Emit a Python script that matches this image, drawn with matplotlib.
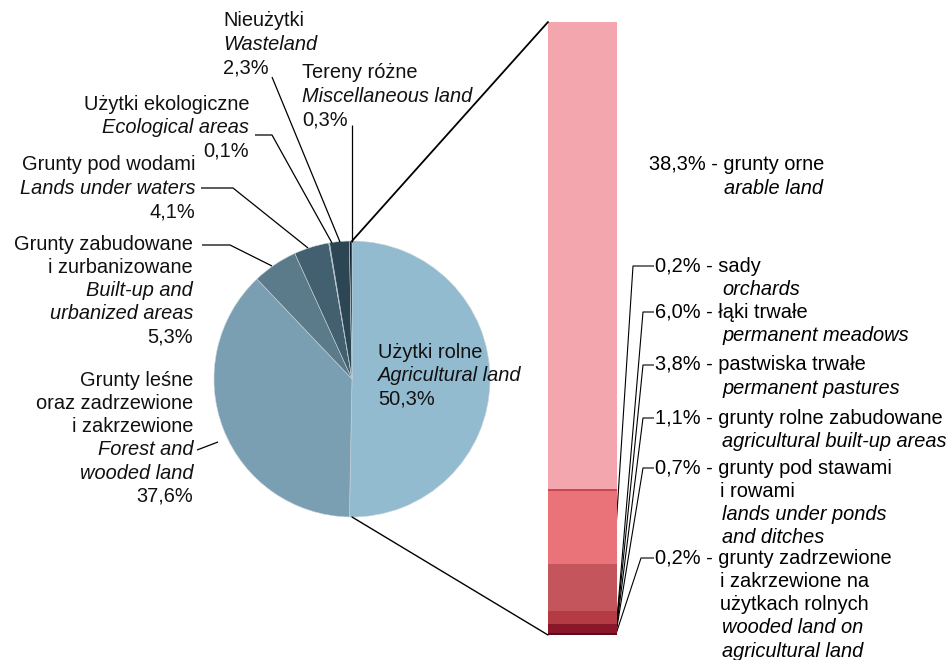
import matplotlib
matplotlib.use("Agg")
import matplotlib.pyplot as plt
from matplotlib.patches import ConnectionPatch

plt.rcParams['font.family'] = ['Liberation Sans', 'DejaVu Sans']

# ---- data ----
pie_labels_pl = ["Użytki rolne", "Grunty leśne\noraz zadrzewione\ni zakrzewione",
                 "Grunty zabudowane\ni zurbanizowane", "Grunty pod wodami",
                 "Użytki ekologiczne", "Nieużytki", "Tereny różne"]
pie_labels_en = ["Agricultural land", "Forest and\nwooded land", "Built-up and\nurbanized areas",
                 "Lands under waters", "Ecological areas", "Wasteland", "Miscellaneous land"]
pie_values = [50.3, 37.6, 5.3, 4.1, 0.1, 2.3, 0.3]
pie_colors = ["#93bbd0", "#7a9fb2", "#5b7b8b", "#42606f", "#55707f", "#2c4654", "#13222c"]

# bar segments, top to bottom
bar_labels_pl = ["grunty orne", "sady", "łąki trwałe", "pastwiska trwałe",
                 "grunty rolne zabudowane", "grunty pod stawami\ni rowami",
                 "grunty zadrzewione\ni zakrzewione na\nużytkach rolnych"]
bar_labels_en = ["arable land", "orchards", "permanent meadows", "permanent pastures",
                 "agricultural built-up areas", "lands under ponds\nand ditches",
                 "wooded land on\nagricultural land"]
bar_values = [38.3, 0.2, 6.0, 3.8, 1.1, 0.7, 0.2]
bar_colors = ["#f4a6ae", "#c9464f", "#e97378", "#c4555c", "#b43a43", "#8a1729", "#5e0a1c"]

W, H = 952, 660
fig = plt.figure(figsize=(W / 100, H / 100), dpi=100)
ax = fig.add_axes([0, 0, 1, 1])

def Y(py):
    return H - py

FS = 14.4
LS = 23.3

# ---- pie ----
cx, cy, r = 352, Y(379), 138
ax.pie(pie_values, colors=pie_colors, startangle=90, counterclock=False,
       center=(cx, cy), radius=r, frame=True,
       wedgeprops=dict(linewidth=0.4, edgecolor="#c8d4da"))
ax.set_xlim(0, W)
ax.set_ylim(0, H)
ax.set_aspect('equal')
ax.axis('off')

def pct(v):
    return f"{v:.1f}%".replace(".", ",")

def block(x, y0, lines, ha):
    """lines: list of (text, italic)"""
    for i, (t, it) in enumerate(lines):
        ax.text(x, Y(y0 + i * LS), t, ha=ha, va='center', fontsize=FS,
                style='italic' if it else 'normal', color='#111111')

def lines_of(i):
    out = [(s, False) for s in pie_labels_pl[i].split("\n")]
    out += [(s, True) for s in pie_labels_en[i].split("\n")]
    out.append((pct(pie_values[i]), False))
    return out

block(378, 352, lines_of(0), 'left')      # agricultural
block(193, 380, lines_of(1), 'right')     # forest
block(193, 244, lines_of(2), 'right')     # built-up
block(195, 165, lines_of(3), 'right')     # waters
block(249, 104, lines_of(4), 'right')     # ecological
block(223, 21, lines_of(5), 'left')       # wasteland
block(302, 73, lines_of(6), 'left')       # misc

def leader(pts, lw=0.9):
    xs = [p[0] for p in pts]
    ys = [Y(p[1]) for p in pts]
    ax.plot(xs, ys, color='black', lw=lw, solid_capstyle='butt')

leader([(272, 77), (340, 242)])
leader([(352, 125), (352, 242)])
leader([(255, 135), (272, 135), (332, 243)])
leader([(201, 188), (233, 188), (308, 248)])
leader([(202, 245), (230, 245), (272, 266)])
leader([(197, 450), (218, 442)])

# ---- bar ----
bx0, bx1, by0, by1 = 548, 617, 22, 635
bax = fig.add_axes([bx0 / W, (H - by1) / H, (bx1 - bx0) / W, (by1 - by0) / H])
total = sum(bar_values)
top = total
for v, c in zip(bar_values, bar_colors):
    bax.bar(0.5, v, bottom=top - v, width=1.0, color=c, linewidth=0)
    top -= v
bax.set_xlim(0, 1)
bax.set_ylim(0, total)
bax.axis('off')

# connection lines pie -> bar
con1 = ConnectionPatch(xyA=(cx, cy + r), coordsA=ax.transData,
                       xyB=(0, total), coordsB=bax.transData, color='black', lw=1.3)
con2 = ConnectionPatch(xyA=(cx, cy - r), coordsA=ax.transData,
                       xyB=(0, 0), coordsB=bax.transData, color='black', lw=1.0)
fig.add_artist(con1)
fig.add_artist(con2)

# bar labels
ax.text(649, Y(165), f"{pct(bar_values[0])} - {bar_labels_pl[0]}", ha='left', va='center', fontsize=FS)
ax.text(724, Y(189), bar_labels_en[0], ha='left', va='center', fontsize=FS, style='italic')

label_y = [None, 266, 312, 365, 418, 468, 558]
ends = [None, (616, 528), (616, 630), (616, 631), (616, 632), (616, 633), (616, 634)]
tick_x = [None, 633, 643, 643, 643, 643, 641]
for i in range(1, len(bar_values)):
    y0 = label_y[i]
    pl = bar_labels_pl[i].split("\n")
    en = bar_labels_en[i].split("\n")
    ax.text(655, Y(y0), f"{pct(bar_values[i])} - {pl[0]}", ha='left', va='center', fontsize=FS)
    k = 1
    for s in pl[1:]:
        ax.text(720, Y(y0 + k * LS), s, ha='left', va='center', fontsize=FS)
        k += 1
    for s in en:
        ax.text(722, Y(y0 + k * LS), s, ha='left', va='center', fontsize=FS, style='italic')
        k += 1
    leader([(654, y0), (tick_x[i], y0), ends[i]], lw=0.8)

fig.savefig("out.png", dpi=100)
